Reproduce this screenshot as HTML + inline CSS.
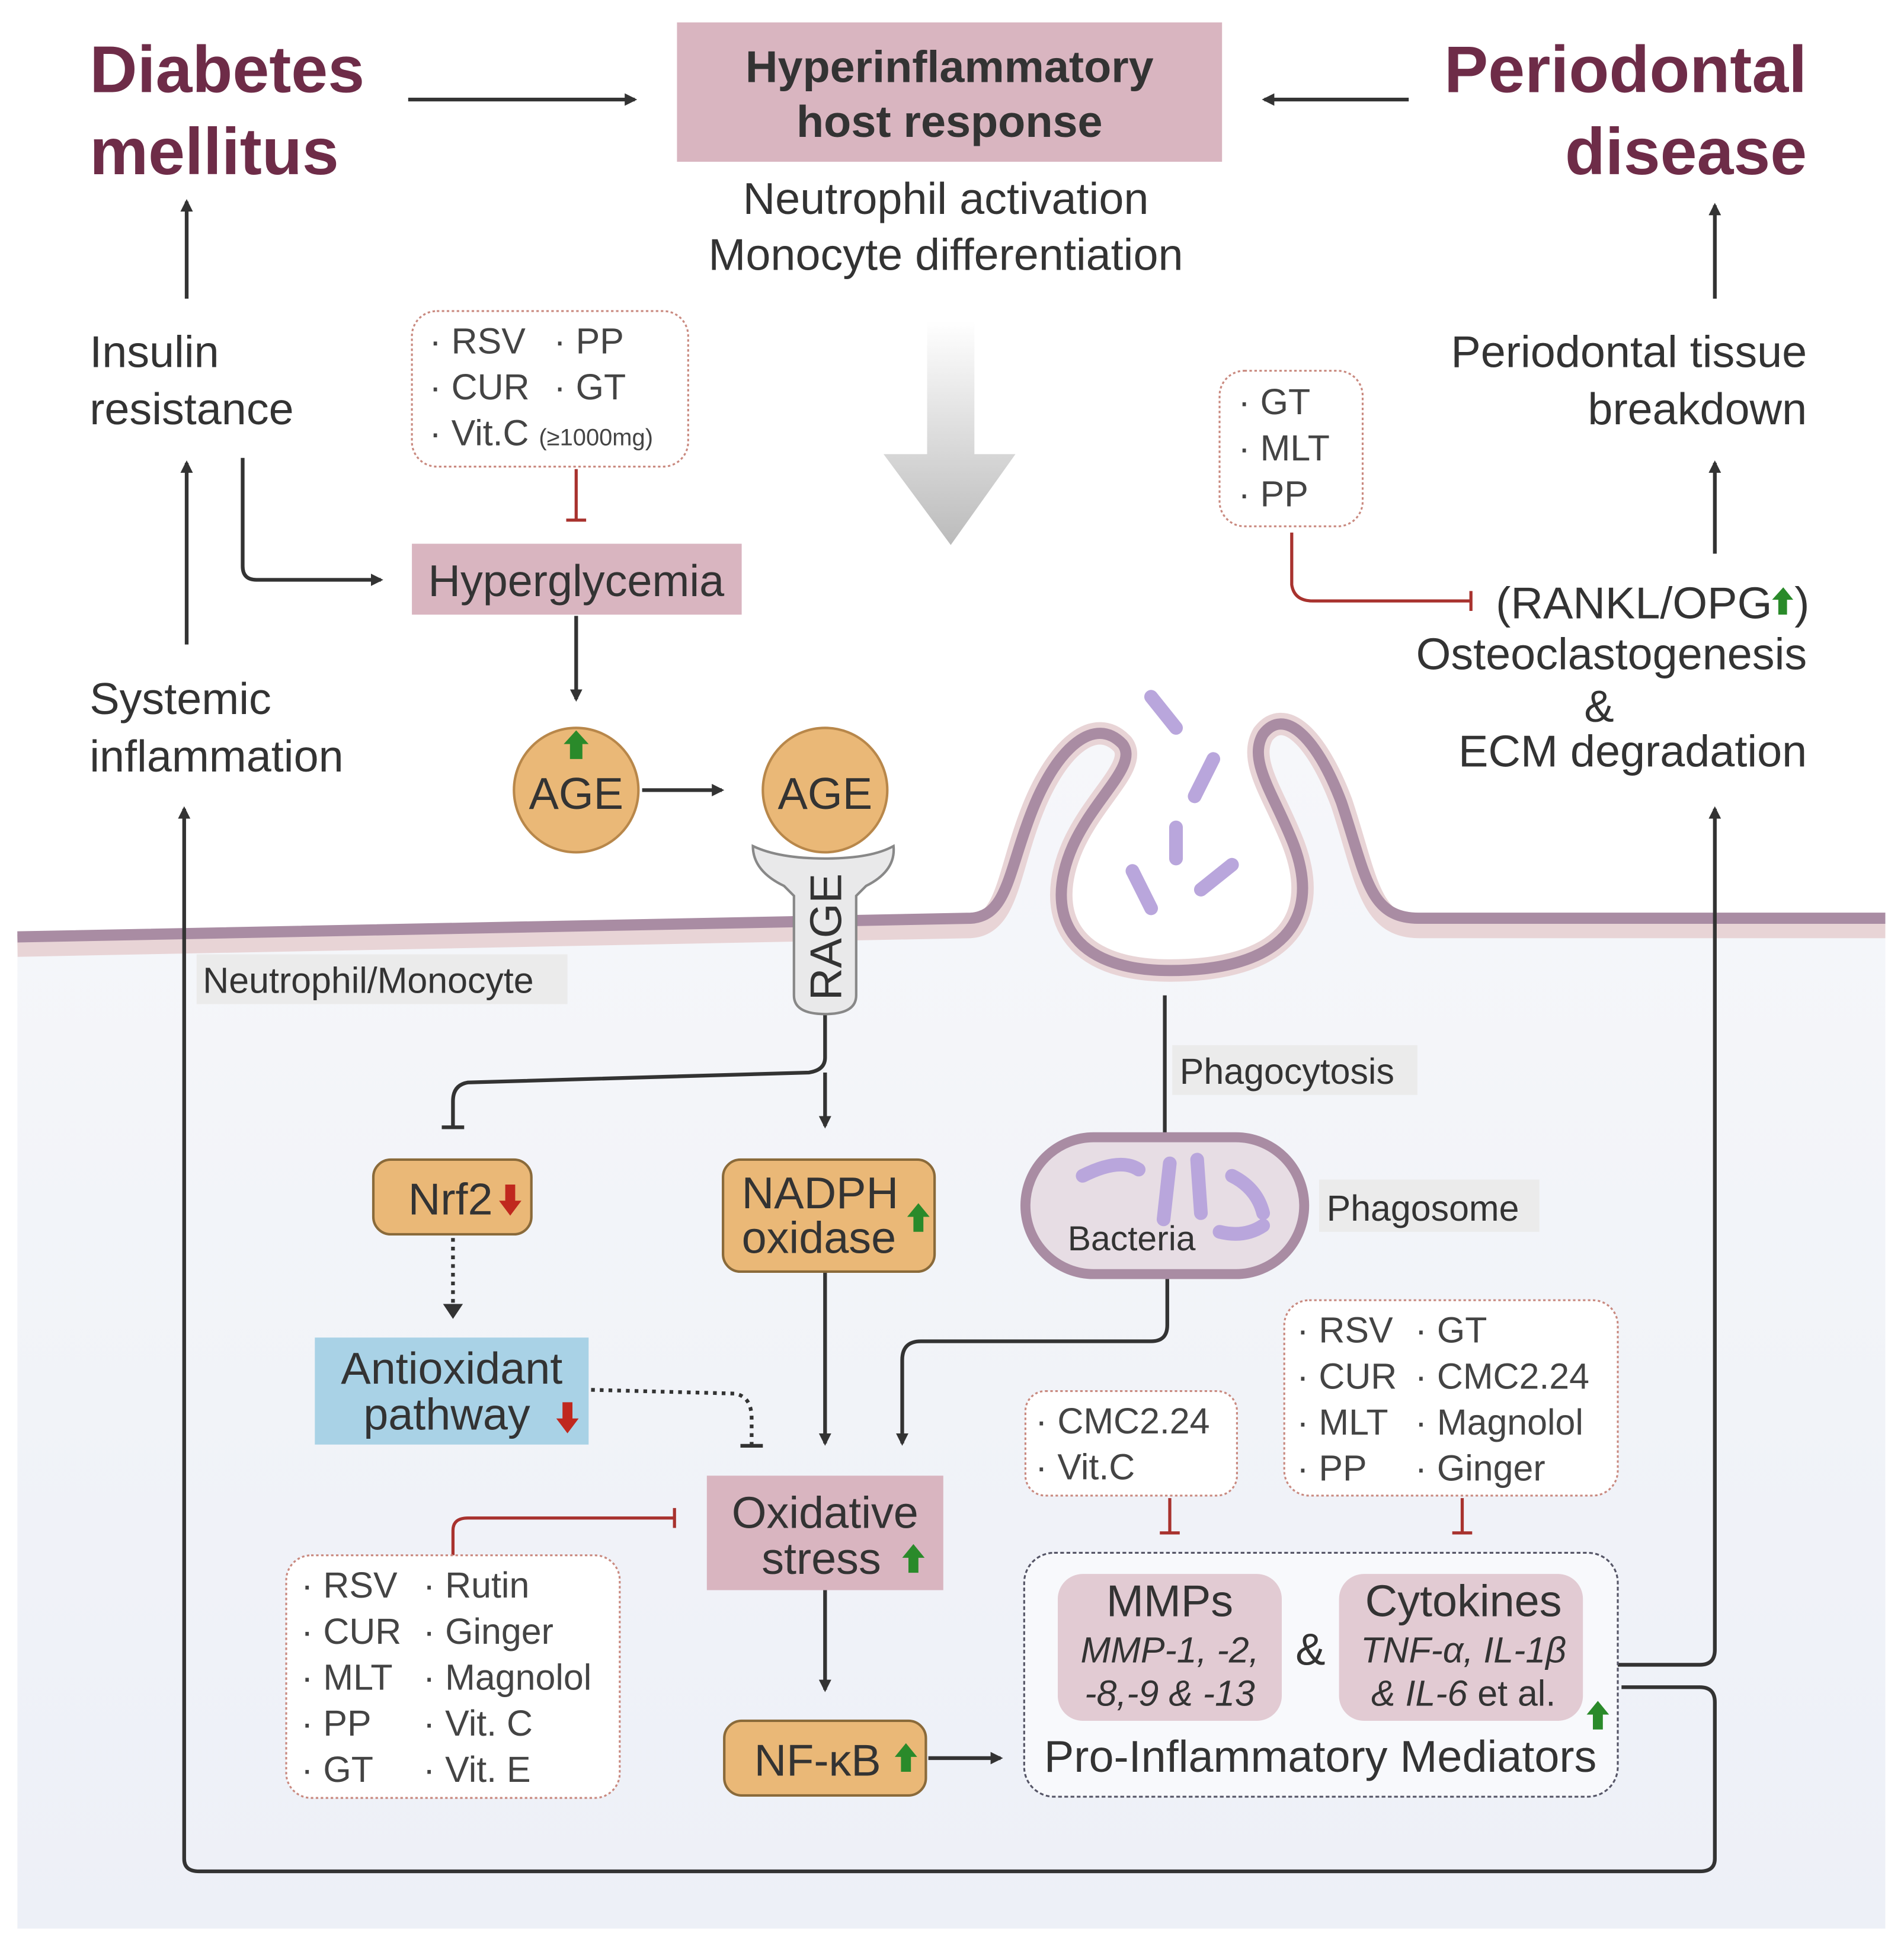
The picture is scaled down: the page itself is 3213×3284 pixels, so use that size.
<!DOCTYPE html>
<html><head><meta charset="utf-8"><style>
html,body{margin:0;padding:0;background:#fff}
svg{display:block}
text{font-family:"Liberation Sans",sans-serif;fill:#333}
.t{font-size:36px}
.s{font-size:29px;fill:#444}
.h{font-size:53px;font-weight:bold;fill:#6e2c48}
</style></head><body>
<svg width="3213" height="3284" viewBox="0 0 1530 1564" preserveAspectRatio="none" xmlns="http://www.w3.org/2000/svg">
<defs>
<linearGradient id="ga" x1="0" y1="0" x2="0" y2="1"><stop offset="0" stop-color="#fff"/><stop offset="1" stop-color="#bbb"/></linearGradient>
<linearGradient id="cell" x1="0" y1="0" x2="0" y2="1"><stop offset="0" stop-color="#f6f7fa"/><stop offset="1" stop-color="#edf0f7"/></linearGradient>
<marker id="ar" markerWidth="10" markerHeight="10" refX="8" refY="5" orient="auto" markerUnits="userSpaceOnUse"><path d="M0,0 L10,5 L0,10 Z" fill="#333"/></marker>
</defs>
<path d="M14,757 L780,742 C810,740 810,700 830,650 C850,600 880,575 902,598 C915,615 880,640 862,680 C838,735 860,780 940,780 C1030,780 1062,740 1040,680 C1025,640 1002,612 1015,590 C1032,568 1058,592 1078,645 C1098,705 1100,742 1140,742 L1515,742 L1515,1550 L14,1550 Z" fill="url(#cell)"/>
<path d="M860,690 C840,740 865,775 940,775 C1025,775 1055,740 1035,685 C1020,645 1000,630 990,620 L900,610 Z" fill="#fff"/>
<path d="M14,760 L780,745 C810,743 810,700 830,650 C850,600 880,575 902,598 C915,615 880,640 862,680 C838,735 860,780 940,780 C1030,780 1062,740 1040,680 C1025,640 1002,612 1015,590 C1032,568 1058,592 1078,645 C1098,705 1100,745 1140,745 L1515,745" fill="none" stroke="#e8d4d6" stroke-width="18"/>
<path d="M14,753 L780,738 C810,736 810,700 830,650 C850,600 880,575 902,598 C915,615 880,640 862,680 C838,735 860,780 940,780 C1030,780 1062,740 1040,680 C1025,640 1002,612 1015,590 C1032,568 1058,592 1078,645 C1098,705 1100,738 1140,738 L1515,738" fill="none" stroke="#a98ca3" stroke-width="9"/>
<g stroke="#b9a6dc" stroke-width="11" stroke-linecap="round" fill="none">
<path d="M925,560 L945,585"/><path d="M975,610 L960,640"/><path d="M945,665 L945,690"/><path d="M990,695 L965,715"/><path d="M910,700 L925,730"/>
</g>
<text class="h" x="72" y="74">Diabetes</text><text class="h" x="72" y="140">mellitus</text>
<text class="h" x="1452" y="74" text-anchor="end">Periodontal</text><text class="h" x="1452" y="140" text-anchor="end">disease</text>
<rect x="544" y="18" width="438" height="112" fill="#d9b5c0"/>
<text class="t" x="763" y="66" text-anchor="middle" font-weight="bold" fill="#444">Hyperinflammatory</text>
<text class="t" x="763" y="110" text-anchor="middle" font-weight="bold" fill="#444">host response</text>
<text class="t" x="760" y="172" text-anchor="middle">Neutrophil activation</text>
<text class="t" x="760" y="217" text-anchor="middle">Monocyte differentiation</text>
<g stroke="#333" stroke-width="3" fill="none">
<line x1="328" y1="80" x2="510" y2="80" marker-end="url(#ar)"/>
<line x1="1132" y1="80" x2="1016" y2="80" marker-end="url(#ar)"/>
<line x1="150" y1="240" x2="150" y2="162" marker-end="url(#ar)"/>
<line x1="150" y1="518" x2="150" y2="372" marker-end="url(#ar)"/>
<line x1="1378" y1="240" x2="1378" y2="165" marker-end="url(#ar)"/>
<line x1="1378" y1="445" x2="1378" y2="372" marker-end="url(#ar)"/>
<path d="M195,368 L195,455 Q195,466 206,466 L306,466" marker-end="url(#ar)"/>
<line x1="463" y1="495" x2="463" y2="562" marker-end="url(#ar)"/>
<line x1="516" y1="635" x2="580" y2="635" marker-end="url(#ar)"/>
<path d="M1300,1338 L1366,1338 Q1378,1338 1378,1326 L1378,650" marker-end="url(#ar)"/>
<path d="M1303,1356 L1366,1356 Q1378,1356 1378,1368 L1378,1494 Q1378,1504 1366,1504 L160,1504 Q148,1504 148,1494 L148,650" marker-end="url(#ar)"/>
<path d="M663,810 L663,850 Q663,860 650,862 L376,870 Q364,872 364,885 L364,906"/>
<line x1="355" y1="906" x2="373" y2="906"/>
<line x1="663" y1="862" x2="663" y2="905" marker-end="url(#ar)"/>
<line x1="663" y1="1022" x2="663" y2="1160" marker-end="url(#ar)"/>
<line x1="936" y1="800" x2="936" y2="912"/>
<path d="M938,1025 L938,1065 Q938,1078 925,1078 L740,1078 Q725,1078 725,1093 L725,1160" marker-end="url(#ar)"/>
<line x1="663" y1="1278" x2="663" y2="1358" marker-end="url(#ar)"/>
<line x1="746" y1="1413" x2="804" y2="1413" marker-end="url(#ar)"/>
</g>
<g stroke="#333" stroke-width="3" fill="none" stroke-dasharray="3,4">
<line x1="364" y1="995" x2="364" y2="1052"/>
<path d="M475,1117 L590,1120 Q604,1122 604,1140 L604,1162"/>
</g>
<path d="M356,1048 L364,1060 L372,1048 Z" fill="#333"/>
<line x1="595" y1="1162" x2="613" y2="1162" stroke="#333" stroke-width="3"/>
<g stroke="#a8322e" stroke-width="2.5" fill="none">
<line x1="463" y1="377" x2="463" y2="418"/><line x1="455" y1="418" x2="471" y2="418"/>
<path d="M1038,428 L1038,470 Q1040,483 1055,483 L1182,483"/><line x1="1182" y1="475" x2="1182" y2="491"/>
<path d="M364,1250 L364,1230 Q364,1220 376,1220 L542,1220"/><line x1="542" y1="1212" x2="542" y2="1228"/>
<line x1="940" y1="1204" x2="940" y2="1232"/><line x1="932" y1="1232" x2="948" y2="1232"/>
<line x1="1175" y1="1204" x2="1175" y2="1232"/><line x1="1167" y1="1232" x2="1183" y2="1232"/>
</g>
<path d="M745,258 L783,258 L783,365 L816,365 L764,438 L710,365 L745,365 Z" fill="url(#ga)"/>
<text class="t" x="72" y="295">Insulin</text><text class="t" x="72" y="341">resistance</text>
<text class="t" x="72" y="574">Systemic</text><text class="t" x="72" y="620">inflammation</text>
<text class="t" x="1452" y="295" text-anchor="end">Periodontal tissue</text><text class="t" x="1452" y="341" text-anchor="end">breakdown</text>
<text class="t" x="1424" y="497" text-anchor="end">(RANKL/OPG</text>
<text class="t" x="1442" y="497">)</text>
<path d="M1429,494 L1429,482 L1424,482 L1433,472 L1441,482 L1436,482 L1436,494Z" fill="#2a8a2a"/>
<text class="t" x="1452" y="538" text-anchor="end">Osteoclastogenesis</text>
<text class="t" x="1285" y="580" text-anchor="middle">&amp;</text>
<text class="t" x="1452" y="616" text-anchor="end">ECM degradation</text>
<g fill="#fff" stroke="#c9897f" stroke-width="1.5" stroke-dasharray="2,2">
<rect x="331" y="250" width="222" height="125" rx="20"/>
<rect x="980" y="298" width="115" height="125" rx="20"/>
<rect x="230" y="1250" width="268" height="195" rx="20"/>
<rect x="824" y="1118" width="170" height="84" rx="16"/>
<rect x="1032" y="1045" width="268" height="157" rx="20"/>
</g>
<text class="s" x="345" y="284">· RSV</text><text class="s" x="445" y="284">· PP</text>
<text class="s" x="345" y="321">· CUR</text><text class="s" x="445" y="321">· GT</text>
<text class="s" x="345" y="358">· Vit.C <tspan font-size="19">(≥1000mg)</tspan></text>
<text class="s" x="995" y="333">· GT</text><text class="s" x="995" y="370">· MLT</text><text class="s" x="995" y="407">· PP</text>
<text class="s" x="242" y="1284">· RSV</text><text class="s" x="242" y="1321">· CUR</text><text class="s" x="242" y="1358">· MLT</text><text class="s" x="242" y="1395">· PP</text><text class="s" x="242" y="1432">· GT</text>
<text class="s" x="340" y="1284">· Rutin</text><text class="s" x="340" y="1321">· Ginger</text><text class="s" x="340" y="1358">· Magnolol</text><text class="s" x="340" y="1395">· Vit. C</text><text class="s" x="340" y="1432">· Vit. E</text>
<text class="s" x="832" y="1152">· CMC2.24</text><text class="s" x="832" y="1189">· Vit.C</text>
<text class="s" x="1042" y="1079">· RSV</text><text class="s" x="1042" y="1116">· CUR</text><text class="s" x="1042" y="1153">· MLT</text><text class="s" x="1042" y="1190">· PP</text>
<text class="s" x="1137" y="1079">· GT</text><text class="s" x="1137" y="1116">· CMC2.24</text><text class="s" x="1137" y="1153">· Magnolol</text><text class="s" x="1137" y="1190">· Ginger</text>
<rect x="331" y="437" width="265" height="57" fill="#d9b5c0"/>
<text class="t" x="463" y="479" text-anchor="middle">Hyperglycemia</text>
<circle cx="463" cy="635" r="50" fill="#eab877" stroke="#b8874a" stroke-width="2"/>
<text class="t" x="463" y="650" text-anchor="middle">AGE</text>
<path d="M458,610 L458,598 L453,598 L463,587 L473,598 L468,598 L468,610Z" fill="#2a8a2a"/>
<path d="M605,680 Q605,700 630,712 L638,720 L638,800 Q638,815 663,815 Q688,815 688,800 L688,720 L696,712 Q720,700 718,680 Q700,690 663,690 Q626,690 605,680 Z" fill="#e9e9ea" stroke="#888" stroke-width="2"/>
<circle cx="663" cy="635" r="50" fill="#eab877" stroke="#b8874a" stroke-width="2"/>
<text class="t" x="663" y="650" text-anchor="middle">AGE</text>
<text class="t" transform="translate(676,753) rotate(-90)" text-anchor="middle">RAGE</text>
<rect x="158" y="767" width="298" height="40" fill="#ebebeb"/>
<text x="163" y="798" font-size="29">Neutrophil/Monocyte</text>
<rect x="942" y="840" width="197" height="40" fill="#ebebeb"/>
<text x="948" y="871" font-size="29">Phagocytosis</text>
<rect x="1060" y="948" width="177" height="42" fill="#ebebeb"/>
<text x="1066" y="981" font-size="29">Phagosome</text>
<rect x="300" y="932" width="127" height="60" rx="14" fill="#eab877" stroke="#8a6a3a" stroke-width="2"/>
<text class="t" x="328" y="976">Nrf2</text>
<path d="M406,952 L406,965 L401,965 L410,977 L419,965 L414,965 L414,952Z" fill="#c0281e"/>
<rect x="581" y="932" width="170" height="90" rx="14" fill="#eab877" stroke="#8a6a3a" stroke-width="2"/>
<text class="t" x="596" y="971">NADPH</text><text class="t" x="596" y="1007">oxidase</text>
<path d="M734,990 L734,978 L729,978 L738,967 L747,978 L742,978 L742,990Z" fill="#2a8a2a"/>
<rect x="824" y="914" width="224" height="110" rx="55" fill="#e7dde4" stroke="#a98ca3" stroke-width="8"/>
<g stroke="#b9a6dc" stroke-width="11" stroke-linecap="round" fill="none">
<path d="M870,945 Q900,930 915,940"/><path d="M940,935 L935,980"/><path d="M962,932 L965,975"/><path d="M990,945 Q1010,955 1015,975"/><path d="M980,990 Q1000,995 1015,985"/>
</g>
<text x="858" y="1005" font-size="28">Bacteria</text>
<rect x="253" y="1075" width="220" height="86" fill="#a9d2e6"/>
<text class="t" x="363" y="1112" text-anchor="middle">Antioxidant</text>
<text class="t" x="292" y="1149">pathway</text>
<path d="M452,1127 L452,1140 L447,1140 L456,1152 L465,1140 L460,1140 L460,1127Z" fill="#c0281e"/>
<rect x="568" y="1186" width="190" height="92" fill="#d9b5c0"/>
<text class="t" x="663" y="1228" text-anchor="middle">Oxidative</text>
<text class="t" x="612" y="1265">stress</text>
<path d="M730,1264 L730,1252 L725,1252 L734,1241 L743,1252 L738,1252 L738,1264Z" fill="#2a8a2a"/>
<rect x="582" y="1383" width="162" height="60" rx="14" fill="#eab877" stroke="#8a6a3a" stroke-width="2"/>
<text class="t" x="606" y="1427">NF-κB</text>
<path d="M724,1424 L724,1412 L719,1412 L728,1401 L737,1412 L732,1412 L732,1424Z" fill="#2a8a2a"/>
<rect x="823" y="1248" width="477" height="196" rx="24" fill="#f8f9fc" stroke="#556" stroke-width="1.5" stroke-dasharray="3,2"/>
<rect x="850" y="1265" width="180" height="118" rx="20" fill="#e2cbd3"/>
<rect x="1076" y="1265" width="196" height="118" rx="20" fill="#e2cbd3"/>
<text class="t" x="940" y="1299" text-anchor="middle">MMPs</text>
<text x="940" y="1336" text-anchor="middle" font-size="29" font-style="italic">MMP-1, -2,</text>
<text x="940" y="1371" text-anchor="middle" font-size="29" font-style="italic">-8,-9 &amp; -13</text>
<text class="t" x="1053" y="1338" text-anchor="middle">&amp;</text>
<text class="t" x="1176" y="1299" text-anchor="middle">Cytokines</text>
<text x="1176" y="1336" text-anchor="middle" font-size="29" font-style="italic">TNF-α, IL-1β</text>
<text x="1176" y="1371" text-anchor="middle" font-size="29"><tspan font-style="italic">&amp; IL-6</tspan> et al.</text>
<path d="M1280,1390 L1280,1378 L1275,1378 L1284,1367 L1293,1378 L1288,1378 L1288,1390Z" fill="#2a8a2a"/>
<text class="t" x="1061" y="1424" text-anchor="middle">Pro-Inflammatory Mediators</text>
</svg>
</body></html>
